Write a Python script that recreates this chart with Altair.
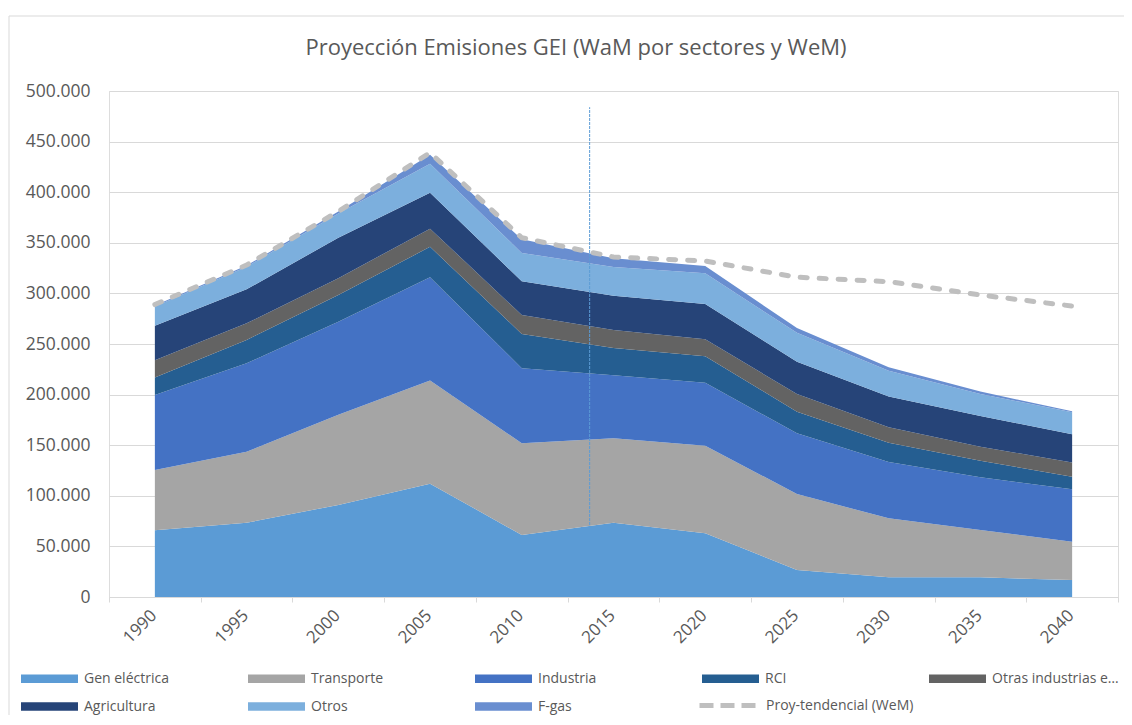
import altair as alt
import pandas as pd

years = [1990, 1995, 2000, 2005, 2010, 2015, 2020, 2025, 2030, 2035, 2040]
sectors = ["Gen eléctrica", "Transporte", "Industria", "RCI", "Otras industrias energ",
           "Agricultura", "Otros", "F-gas"]
colors = ["#5B9BD5", "#A5A5A5", "#4472C4", "#255E91", "#636363", "#264478", "#7CAFDD", "#698ED0"]

gen = [66000, 73400, 91000, 112000, 61300, 73400, 63000, 26700, 19400, 19400, 16800]
trans = [59500, 70200, 89000, 102000, 90600, 83400, 86500, 75100, 58300, 46800, 37900]
ind = [74100, 87400, 92000, 102000, 74100, 62200, 62300, 59900, 55700, 52100, 51700]
rci = [17400, 23000, 26400, 30000, 34000, 27000, 26200, 21300, 19100, 16400, 12500]
otras = [17000, 16400, 16600, 18000, 18700, 17800, 16600, 17600, 15200, 13800, 14100]
agri = [34000, 33600, 40000, 35500, 33300, 33900, 34900, 31900, 30300, 30400, 27700]
otros = [19000, 22400, 24000, 28500, 28000, 28300, 30300, 28500, 25600, 21700, 21800]
fgas = [1000, 1100, 2000, 9000, 13400, 8700, 7200, 4800, 3400, 2400, 1000]

wem_label = "Proy-tendencial (WeM)"
wem = [289000, 328000, 381000, 439000, 355000, 336000, 332000, 316000, 311600, 298400, 287500]

marker_year = [2013.7]
marker_top = [484000]

y_ticks = [0, 50000, 100000, 150000, 200000, 250000, 300000, 350000, 400000, 450000, 500000]
x_tick_marks = [1987.5, 1992.5, 1997.5, 2002.5, 2007.5, 2012.5, 2017.5, 2022.5, 2027.5, 2032.5,
                2037.5, 2042.5]

series = [gen, trans, ind, rci, otras, agri, otros, fgas]
rows = []
for i, (name, vals) in enumerate(zip(sectors, series)):
    for y, v in zip(years, vals):
        rows.append({"year": y, "sector": name, "value": v, "idx": i})
df_area = pd.DataFrame(rows)
df_wem = pd.DataFrame({"year": years, "wem": wem, "serie": [wem_label] * len(years)})
df_rule = pd.DataFrame({"year": marker_year, "top": marker_top, "base": [0]})

FONT = "Open Sans"
TXT = "#595959"
GRID = "#D9D9D9"

x_scale = alt.Scale(domain=[1987.5, 2042.5], nice=False, zero=False)
y_scale = alt.Scale(domain=[0, 500000], nice=False)

x_axis_labels = alt.Axis(
    orient="bottom", values=years, title=None, ticks=False, grid=False,
    domain=True, domainColor=GRID, domainWidth=1,
    labelAngle=-45, labelAlign="right", labelBaseline="top",
    labelPadding=10, labelOffset=-7, labelFont=FONT, labelFontSize=17, labelColor=TXT,
    labelOverlap=False, labelFlush=False, format="d",
)
x_axis_ticks = alt.Axis(
    orient="bottom", values=x_tick_marks, title=None, labels=False, grid=False,
    domain=False, ticks=True, tickColor=GRID, tickSize=5, tickWidth=1,
)
y_axis = alt.Axis(
    orient="left", values=y_ticks, title=None, ticks=False, domain=False, grid=True,
    gridColor=GRID, gridWidth=1, labelPadding=19, labelFont=FONT, labelFontSize=17.5,
    labelColor=TXT, labelExpr="replace(format(datum.value, ','), regexp(',', 'g'), '.')",
)

border = alt.Chart(pd.DataFrame({"k": [0]})).mark_rect(
    fillOpacity=0, stroke=GRID, strokeWidth=1
).encode(
    x=alt.value(-100), x2=alt.value(1034), y=alt.value(-75), y2=alt.value(640)
)

area = alt.Chart(df_area).mark_area(opacity=1).encode(
    x=alt.X("year:Q", scale=x_scale, axis=x_axis_labels),
    y=alt.Y("value:Q", stack="zero", scale=y_scale, axis=y_axis),
    fill=alt.Fill(
        "sector:N",
        scale=alt.Scale(domain=sectors, range=colors),
        legend=alt.Legend(
            title=None, orient="none", legendX=-69, legendY=578, columns=5,
            direction="horizontal",
            symbolType="M-3,-0.44L3,-0.44L3,0.44L-3,0.44Z", symbolSize=361,
            symbolStrokeWidth=0, symbolOpacity=1,
            labelFont=FONT, labelFontSize=14, labelColor=TXT, labelOffset=25,
            columnPadding=37, rowPadding=11, gridAlign="all", padding=0, labelLimit=128,
        ),
    ),
    order=alt.Order("idx:Q", sort="ascending"),
)

rule = alt.Chart(df_rule).mark_rule(strokeWidth=1, strokeDash=[3, 1], opacity=1).encode(
    x=alt.X("year:Q", scale=x_scale, axis=None),
    y=alt.Y("base:Q", scale=y_scale, axis=y_axis),
    y2="top:Q",
    color=alt.value("#5B9BD5"),
)

line = alt.Chart(df_wem).mark_line(strokeWidth=5, strokeDash=[7, 12], strokeCap="round").encode(
    x=alt.X("year:Q", scale=x_scale, axis=x_axis_ticks),
    y=alt.Y("wem:Q", scale=y_scale, axis=y_axis),
    stroke=alt.Stroke(
        "serie:N",
        scale=alt.Scale(domain=[wem_label], range=["#BFBFBF"]),
        legend=alt.Legend(
            title=None, orient="none", legendX=588, legendY=583.5,
            symbolType="stroke", symbolSize=3249, symbolStrokeWidth=5, symbolDash=[14, 7],
            labelFont=FONT, labelFontSize=14, labelColor=TXT, labelOffset=7, padding=0,
        ),
    ),
)

chart = alt.layer(border, area, rule, line).resolve_axis(x="independent").properties(
    width=1009, height=506,
    padding={"left": 101, "top": 83, "right": 6, "bottom": 118},
    autosize=alt.AutoSizeParams(type="none"),
    title=alt.TitleParams(
        text="Proyección Emisiones GEI (WaM por sectores y WeM)", anchor="middle",
        frame="bounds", offset=-44, font=FONT, fontSize=22, fontWeight="normal", color=TXT,
    ),
).configure_view(strokeWidth=0).configure(background="white")

chart.save("out.html", embed_options={"renderer": "svg", "actions": False})
